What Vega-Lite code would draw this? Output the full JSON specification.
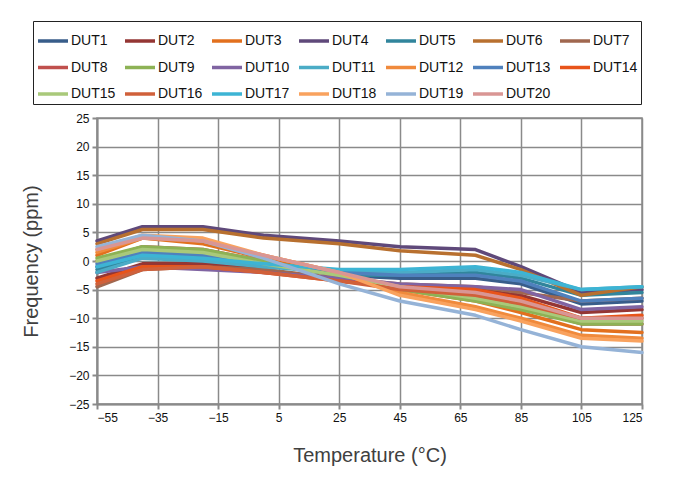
{
"$schema":"https://vega.github.io/schema/vega-lite/v6.json",
"autosize":{"type":"none"},
"width":545,"height":286,
"padding":{"left":97,"top":118,"right":36,"bottom":73},
"background":"white",
"data":{"values":[
{"d":"DUT1","t":-55,"f":-1},{"d":"DUT1","t":-40,"f":1.5},{"d":"DUT1","t":-20,"f":1},{"d":"DUT1","t":0,"f":-0.5},{"d":"DUT1","t":25,"f":-2.5},{"d":"DUT1","t":45,"f":-3},{"d":"DUT1","t":70,"f":-3},{"d":"DUT1","t":85,"f":-4},{"d":"DUT1","t":105,"f":-7.5},{"d":"DUT1","t":125,"f":-7},
{"d":"DUT2","t":-55,"f":-3},{"d":"DUT2","t":-40,"f":-0.5},{"d":"DUT2","t":-20,"f":-0.5},{"d":"DUT2","t":0,"f":-1.5},{"d":"DUT2","t":25,"f":-3.5},{"d":"DUT2","t":45,"f":-4.5},{"d":"DUT2","t":70,"f":-5},{"d":"DUT2","t":85,"f":-6},{"d":"DUT2","t":105,"f":-9},{"d":"DUT2","t":125,"f":-8.5},
{"d":"DUT3","t":-55,"f":1},{"d":"DUT3","t":-40,"f":4},{"d":"DUT3","t":-20,"f":3},{"d":"DUT3","t":0,"f":0.5},{"d":"DUT3","t":25,"f":-2.5},{"d":"DUT3","t":45,"f":-5},{"d":"DUT3","t":70,"f":-7},{"d":"DUT3","t":85,"f":-9},{"d":"DUT3","t":105,"f":-12},{"d":"DUT3","t":125,"f":-12.5},
{"d":"DUT4","t":-55,"f":3.5},{"d":"DUT4","t":-40,"f":6},{"d":"DUT4","t":-20,"f":6},{"d":"DUT4","t":0,"f":4.5},{"d":"DUT4","t":25,"f":3.5},{"d":"DUT4","t":45,"f":2.5},{"d":"DUT4","t":70,"f":2},{"d":"DUT4","t":85,"f":-1},{"d":"DUT4","t":105,"f":-5.5},{"d":"DUT4","t":125,"f":-5},
{"d":"DUT5","t":-55,"f":-1.5},{"d":"DUT5","t":-40,"f":1},{"d":"DUT5","t":-20,"f":0.5},{"d":"DUT5","t":0,"f":-0.5},{"d":"DUT5","t":25,"f":-2.5},{"d":"DUT5","t":45,"f":-2.5},{"d":"DUT5","t":70,"f":-2},{"d":"DUT5","t":85,"f":-3},{"d":"DUT5","t":105,"f":-6},{"d":"DUT5","t":125,"f":-5.5},
{"d":"DUT6","t":-55,"f":3},{"d":"DUT6","t":-40,"f":5.5},{"d":"DUT6","t":-20,"f":5.5},{"d":"DUT6","t":0,"f":4},{"d":"DUT6","t":25,"f":3},{"d":"DUT6","t":45,"f":1.8},{"d":"DUT6","t":70,"f":1},{"d":"DUT6","t":85,"f":-1.5},{"d":"DUT6","t":105,"f":-6},{"d":"DUT6","t":125,"f":-4.5},
{"d":"DUT7","t":-55,"f":-4.5},{"d":"DUT7","t":-40,"f":-1.5},{"d":"DUT7","t":-20,"f":-1},{"d":"DUT7","t":0,"f":-1.5},{"d":"DUT7","t":25,"f":-3},{"d":"DUT7","t":45,"f":-4},{"d":"DUT7","t":70,"f":-4.5},{"d":"DUT7","t":85,"f":-5.5},{"d":"DUT7","t":105,"f":-7},{"d":"DUT7","t":125,"f":-6.5},
{"d":"DUT8","t":-55,"f":0},{"d":"DUT8","t":-40,"f":2.5},{"d":"DUT8","t":-20,"f":2},{"d":"DUT8","t":0,"f":0},{"d":"DUT8","t":25,"f":-2.5},{"d":"DUT8","t":45,"f":-4.5},{"d":"DUT8","t":70,"f":-6},{"d":"DUT8","t":85,"f":-8},{"d":"DUT8","t":105,"f":-11},{"d":"DUT8","t":125,"f":-11},
{"d":"DUT9","t":-55,"f":0.5},{"d":"DUT9","t":-40,"f":2.5},{"d":"DUT9","t":-20,"f":2},{"d":"DUT9","t":0,"f":0},{"d":"DUT9","t":25,"f":-2.5},{"d":"DUT9","t":45,"f":-5},{"d":"DUT9","t":70,"f":-7},{"d":"DUT9","t":85,"f":-8.5},{"d":"DUT9","t":105,"f":-11},{"d":"DUT9","t":125,"f":-11},
{"d":"DUT10","t":-55,"f":-2},{"d":"DUT10","t":-40,"f":-1},{"d":"DUT10","t":-20,"f":-1.5},{"d":"DUT10","t":0,"f":-2},{"d":"DUT10","t":25,"f":-3},{"d":"DUT10","t":45,"f":-4},{"d":"DUT10","t":70,"f":-4.5},{"d":"DUT10","t":85,"f":-5},{"d":"DUT10","t":105,"f":-8.5},{"d":"DUT10","t":125,"f":-8},
{"d":"DUT11","t":-55,"f":-2},{"d":"DUT11","t":-40,"f":0.5},{"d":"DUT11","t":-20,"f":0},{"d":"DUT11","t":0,"f":-1},{"d":"DUT11","t":25,"f":-2},{"d":"DUT11","t":45,"f":-2},{"d":"DUT11","t":70,"f":-1.5},{"d":"DUT11","t":85,"f":-2.5},{"d":"DUT11","t":105,"f":-5},{"d":"DUT11","t":125,"f":-4.5},
{"d":"DUT12","t":-55,"f":1.5},{"d":"DUT12","t":-40,"f":4},{"d":"DUT12","t":-20,"f":3.5},{"d":"DUT12","t":0,"f":1},{"d":"DUT12","t":25,"f":-2},{"d":"DUT12","t":45,"f":-5.5},{"d":"DUT12","t":70,"f":-8},{"d":"DUT12","t":85,"f":-10},{"d":"DUT12","t":105,"f":-13},{"d":"DUT12","t":125,"f":-13.5},
{"d":"DUT13","t":-55,"f":-0.5},{"d":"DUT13","t":-40,"f":1.5},{"d":"DUT13","t":-20,"f":1},{"d":"DUT13","t":0,"f":-0.5},{"d":"DUT13","t":25,"f":-2},{"d":"DUT13","t":45,"f":-2.5},{"d":"DUT13","t":70,"f":-2.5},{"d":"DUT13","t":85,"f":-3.5},{"d":"DUT13","t":105,"f":-7},{"d":"DUT13","t":125,"f":-6.5},
{"d":"DUT14","t":-55,"f":-3.5},{"d":"DUT14","t":-40,"f":-1},{"d":"DUT14","t":-20,"f":-1},{"d":"DUT14","t":0,"f":-2},{"d":"DUT14","t":25,"f":-3.5},{"d":"DUT14","t":45,"f":-4.5},{"d":"DUT14","t":70,"f":-5},{"d":"DUT14","t":85,"f":-6.5},{"d":"DUT14","t":105,"f":-10},{"d":"DUT14","t":125,"f":-9.5},
{"d":"DUT15","t":-55,"f":0},{"d":"DUT15","t":-40,"f":2},{"d":"DUT15","t":-20,"f":1.5},{"d":"DUT15","t":0,"f":-0.5},{"d":"DUT15","t":25,"f":-2.5},{"d":"DUT15","t":45,"f":-4.5},{"d":"DUT15","t":70,"f":-6.5},{"d":"DUT15","t":85,"f":-8},{"d":"DUT15","t":105,"f":-10.5},{"d":"DUT15","t":125,"f":-10.5},
{"d":"DUT16","t":-55,"f":-4},{"d":"DUT16","t":-40,"f":-1.5},{"d":"DUT16","t":-20,"f":-1},{"d":"DUT16","t":0,"f":-2},{"d":"DUT16","t":25,"f":-3.5},{"d":"DUT16","t":45,"f":-5},{"d":"DUT16","t":70,"f":-6},{"d":"DUT16","t":85,"f":-7.5},{"d":"DUT16","t":105,"f":-10},{"d":"DUT16","t":125,"f":-10},
{"d":"DUT17","t":-55,"f":-1},{"d":"DUT17","t":-40,"f":1},{"d":"DUT17","t":-20,"f":0.5},{"d":"DUT17","t":0,"f":-0.5},{"d":"DUT17","t":25,"f":-1.5},{"d":"DUT17","t":45,"f":-1.5},{"d":"DUT17","t":70,"f":-1},{"d":"DUT17","t":85,"f":-2},{"d":"DUT17","t":105,"f":-5},{"d":"DUT17","t":125,"f":-4.5},
{"d":"DUT18","t":-55,"f":2},{"d":"DUT18","t":-40,"f":4.5},{"d":"DUT18","t":-20,"f":4},{"d":"DUT18","t":0,"f":1},{"d":"DUT18","t":25,"f":-2},{"d":"DUT18","t":45,"f":-6},{"d":"DUT18","t":70,"f":-8.5},{"d":"DUT18","t":85,"f":-10.5},{"d":"DUT18","t":105,"f":-13.5},{"d":"DUT18","t":125,"f":-14},
{"d":"DUT19","t":-55,"f":2.5},{"d":"DUT19","t":-40,"f":4.5},{"d":"DUT19","t":-20,"f":3.5},{"d":"DUT19","t":0,"f":0.5},{"d":"DUT19","t":25,"f":-4},{"d":"DUT19","t":45,"f":-7},{"d":"DUT19","t":70,"f":-9.5},{"d":"DUT19","t":85,"f":-12},{"d":"DUT19","t":105,"f":-15},{"d":"DUT19","t":125,"f":-16},
{"d":"DUT20","t":-55,"f":2},{"d":"DUT20","t":-40,"f":4},{"d":"DUT20","t":-20,"f":3.5},{"d":"DUT20","t":0,"f":1},{"d":"DUT20","t":25,"f":-2},{"d":"DUT20","t":45,"f":-4.5},{"d":"DUT20","t":70,"f":-5.5},{"d":"DUT20","t":85,"f":-7},{"d":"DUT20","t":105,"f":-10},{"d":"DUT20","t":125,"f":-10}
]},
"mark":{"type":"line","strokeWidth":3.5,"strokeJoin":"round","strokeCap":"round"},
"encoding":{
"x":{"field":"t","type":"quantitative","title":"Temperature (°C)",
"scale":{"domain":[-55,125],"nice":false,"zero":false},
"axis":{"values":[-55,-35,-15,5,25,45,65,85,105,125],"titlePadding":22}},
"y":{"field":"f","type":"quantitative","title":"Frequency (ppm)",
"scale":{"domain":[-25,25],"nice":false},
"axis":{"values":[-25,-20,-15,-10,-5,0,5,10,15,20,25],"titlePadding":27}},
"color":{"field":"d","type":"nominal",
"scale":{"domain":["DUT1","DUT2","DUT3","DUT4","DUT5","DUT6","DUT7","DUT8","DUT9","DUT10","DUT11","DUT12","DUT13","DUT14","DUT15","DUT16","DUT17","DUT18","DUT19","DUT20"],
"range":["#385D8A","#943634","#E2701E","#5F497A","#31859C","#B8702F","#A0674F","#C0504D","#8DB255","#8064A2","#4BACC6","#F08A3C","#4F81BD","#E8541A","#A9C97A","#D0603A","#3DB4D4","#F9A25E","#95B3D7","#D99694"]},
"legend":{"title":null,"orient":"none","legendX":-64,"legendY":-97,"direction":"horizontal","columns":7,
"symbolType":"stroke","symbolSize":900,"symbolStrokeWidth":3.5,"labelOffset":1,"gridAlign":"all",
"columnPadding":2,"rowPadding":2.5,"padding":3,"strokeColor":"#222222","fillColor":"white",
"labelFont":"Liberation Sans","labelFontSize":14,"labelColor":"#111111","labelLimit":80}}
},
"config":{
"view":{"stroke":"#8a8a8a","strokeWidth":1.5},
"axis":{"grid":true,"gridColor":"#8a8a8a","gridWidth":1.5,"gridOpacity":1,
"domainColor":"#8a8a8a","domainWidth":2,"tickColor":"#8a8a8a","tickWidth":2,"tickSize":5,
"labelFont":"Liberation Sans","labelFontSize":12,"labelColor":"#111111","labelPadding":3,
"titleFont":"Liberation Sans","titleFontSize":20,"titleFontWeight":"normal","titleColor":"#404040"}
}
}
